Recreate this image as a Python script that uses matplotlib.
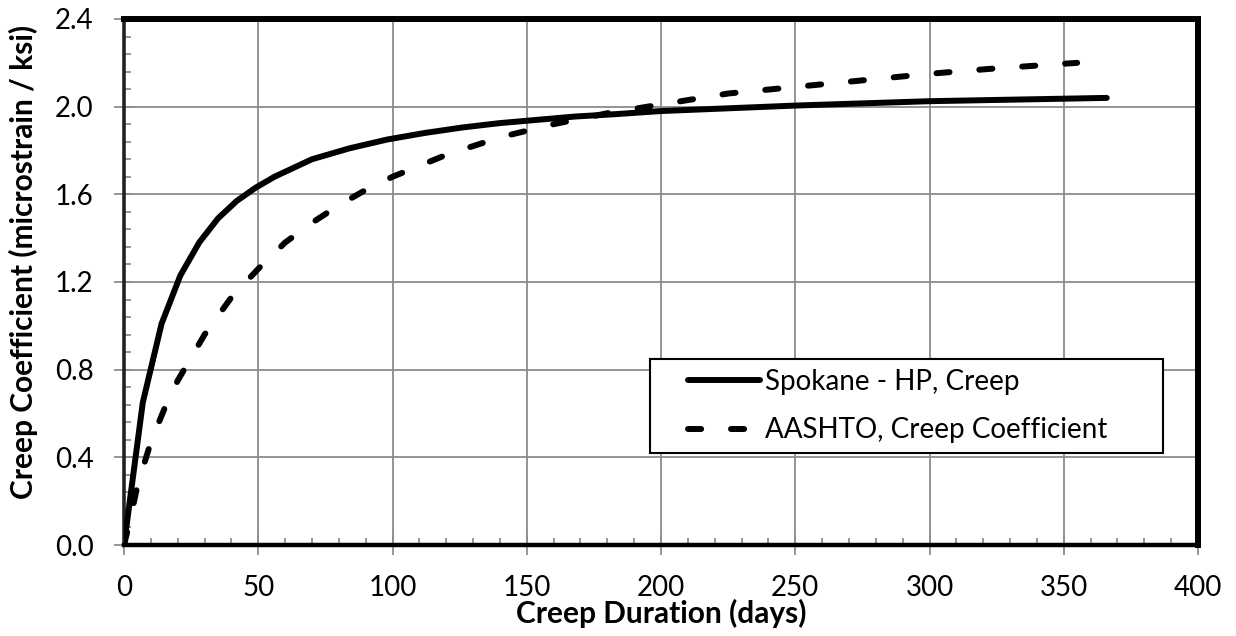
import numpy as np
import matplotlib
matplotlib.use("Agg")
import matplotlib.pyplot as plt
from matplotlib.ticker import MultipleLocator, FormatStrFormatter
from matplotlib.legend_handler import HandlerLine2D

# Data
spokane_days = [0, 7, 14, 21, 28, 35, 42, 49, 56, 70, 84, 98, 112, 126, 140, 154,
                168, 182, 200, 250, 300, 366]
spokane_vals = [0.0, 0.65, 1.01, 1.23, 1.38, 1.49, 1.57, 1.63, 1.68, 1.76, 1.81,
                1.85, 1.88, 1.905, 1.925, 1.94, 1.955, 1.965, 1.98, 2.005, 2.025, 2.04]

aashto_days = [0, 2, 5, 10, 15, 20, 30, 40, 50, 60, 70, 80, 90, 100, 120, 140, 160,
               180, 200, 225, 250, 275, 300, 325, 355]
aashto_vals = [0.0, 0.10, 0.27, 0.47, 0.62, 0.75, 0.96, 1.13, 1.26, 1.38, 1.47, 1.55,
               1.62, 1.68, 1.78, 1.86, 1.92, 1.97, 2.01, 2.06, 2.09, 2.12, 2.15, 2.175, 2.20]

series_labels = ["Spokane - HP, Creep", "AASHTO, Creep Coefficient"]
x_label = "Creep Duration (days)"
y_label = "Creep Coefficient (microstrain / ksi)"

plt.rcParams['font.family'] = ['Lato', 'DejaVu Sans']
FS = 20
LFS = 21.5

fig = plt.figure(figsize=(12.36, 6.36), dpi=100)
ax = fig.add_axes([124/1236, 91/636, 1074/1236, 526/636])

ax.set_xlim(0, 400)
ax.set_ylim(0, 2.4)
ax.xaxis.set_major_locator(MultipleLocator(50))
ax.xaxis.set_minor_locator(MultipleLocator(10))
ax.yaxis.set_major_locator(MultipleLocator(0.4))
ax.yaxis.set_minor_locator(MultipleLocator(0.08))
ax.yaxis.set_major_formatter(FormatStrFormatter('%.1f'))

ax.grid(True, which='major', color='#8c8c8c', linewidth=1.3, zorder=0)
ax.set_axisbelow(True)

ax.tick_params(axis='both', which='major', direction='inout', length=14, width=1.3,
               color='#8c8c8c', labelsize=FS)
ax.tick_params(axis='x', which='major', pad=14.5)
ax.tick_params(axis='y', which='major', pad=15)
ax.tick_params(axis='both', which='minor', direction='in', length=5, width=1.3,
               color='#8c8c8c')

ln1, = ax.plot(spokane_days, spokane_vals, color='black', linewidth=4.3,
               solid_capstyle='round', solid_joinstyle='round', zorder=3)
ln2, = ax.plot(aashto_days, aashto_vals, color='black', linewidth=4.3,
               dash_capstyle='round', zorder=3)
ln2.set_dashes((2.2, 5.0))

for side in ['top', 'right']:
    ax.spines[side].set_linewidth(4.3)
    ax.spines[side].set_color('black')
ax.spines['bottom'].set_linewidth(3.2)
ax.spines['left'].set_linewidth(2.6)
ax.spines['left'].set_color('#222222')

ax.set_xlabel(x_label, fontsize=LFS, fontweight='bold')
ax.xaxis.set_label_coords(0.5, -0.103)
ax.set_ylabel(y_label, fontsize=LFS, fontweight='bold')
ax.yaxis.set_label_coords(-0.080, 0.538)


class RightLineHandler(HandlerLine2D):
    """Draw the legend line only on the right part of the handle box."""
    def __init__(self, start_frac=0.28, **kw):
        super().__init__(**kw)
        self.start_frac = start_frac

    def create_artists(self, legend, orig_handle, xdescent, ydescent, width,
                       height, fontsize, trans):
        arts = super().create_artists(legend, orig_handle, xdescent, ydescent,
                                      width, height, fontsize, trans)
        x0 = -xdescent + width * self.start_frac
        x1 = -xdescent + width
        for a in arts:
            xd = np.asarray(a.get_xdata())
            if len(xd) >= 2:
                a.set_xdata(np.linspace(x0, x1, len(xd)))
        return arts


leg = ax.legend([ln1, ln2], series_labels, loc='upper left',
                bbox_to_anchor=(0.4898, 0.3536, 0.4776, 0.0), mode='expand',
                fontsize=FS, frameon=True, fancybox=False, framealpha=1,
                edgecolor='black', handlelength=3.6, handletextpad=0.18,
                labelspacing=0.8, borderpad=0.36, borderaxespad=0.0,
                handler_map={ln1: RightLineHandler(), ln2: RightLineHandler()})
leg.get_frame().set_linewidth(1.5)
leg.set_zorder(5)
for h in leg.get_lines():
    h.set_linewidth(4.3)

fig.savefig("out.png", dpi=100, facecolor='white')
